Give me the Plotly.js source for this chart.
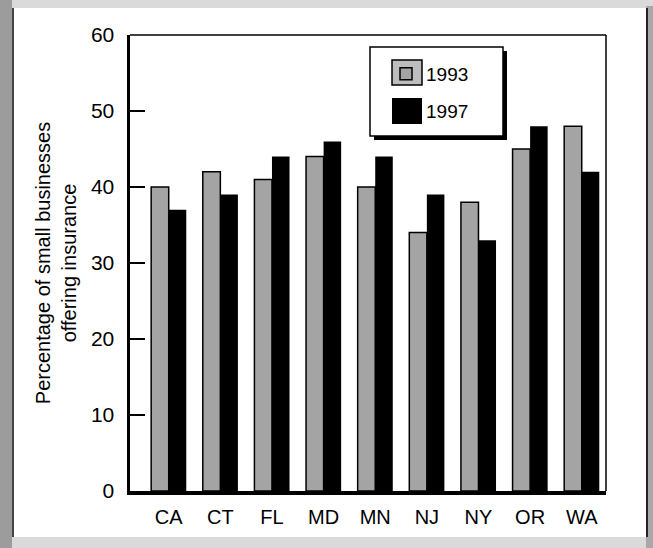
<!DOCTYPE html>
<html>
<head>
<meta charset="utf-8">
<script src="https://cdn.plot.ly/plotly-3.0.1.min.js"></script>
<style>
  html, body { margin: 0; padding: 0; }
  body { width: 653px; height: 548px; background: #dadada; position: relative; overflow: hidden; }
  #lstrip { position: absolute; left: 0; top: 0; width: 12px; height: 548px; background: #9c9c9c; }
  #rstrip { position: absolute; left: 646px; top: 6px; width: 7px; height: 542px; background: #a8a8a8; }
  #frame { position: absolute; left: 12px; top: 8px; width: 632px; height: 529px; background: #ffffff; border-right: 2px solid #222; border-left: 2px solid #444; }
  #chart { position: absolute; left: 0; top: 0; width: 653px; height: 548px; }
</style>
</head>
<body>
<div id="lstrip"></div>
<div id="rstrip"></div>
<div id="frame"></div>
<div id="chart"></div>
<script>
const states = ['CA', 'CT', 'FL', 'MD', 'MN', 'NJ', 'NY', 'OR', 'WA'];
const values1993 = [40, 42, 41, 44, 40, 34, 38, 45, 48];
const values1997 = [37, 39, 44, 46, 44, 39, 33, 48, 42];
const seriesNames = ['1993', '1997'];
const yTicks = [0, 10, 20, 30, 40, 50, 60];

const FONT = 'Liberation Sans, Arial, Helvetica, sans-serif';

const traces = [
  {
    type: 'bar', name: seriesNames[0], x: states, y: values1993,
    legendgroup: 'a',
    marker: {
      color: '#b8b8b8',
      line: { color: '#000', width: 1.5 },
      pattern: { shape: '.', fgcolor: '#7a7a7a', bgcolor: '#c6c6c6', size: 2, solidity: 0.5 }
    },
    hoverinfo: 'x+y'
  },
  {
    type: 'bar', name: seriesNames[1], x: states, y: values1997,
    legendgroup: 'b',
    marker: { color: '#000', line: { color: '#000', width: 0 } },
    hoverinfo: 'x+y'
  }
];

// paper helpers (plot area: left 130, right 606, top 35, bottom 491)
const PL = 130, PR = 606, PT = 35, PB = 491;
const px = v => (v - PL) / (PR - PL);
const py = v => (PB - v) / (PB - PT);

const shapes = [
  { type: 'line', xref: 'paper', yref: 'paper', x0: 0, x1: 1, y0: 1, y1: 1, line: { color: '#000', width: 1.5 } },
  { type: 'line', xref: 'paper', yref: 'paper', x0: 1, x1: 1, y0: 0, y1: 1, line: { color: '#000', width: 1.5 } },
  { type: 'rect', xref: 'paper', yref: 'paper', x0: px(374), x1: px(507), y0: py(140), y1: py(51), fillcolor: '#000', line: { width: 0 }, layer: 'above' },
  { type: 'rect', xref: 'paper', yref: 'paper', x0: px(370), x1: px(503), y0: py(136), y1: py(47), fillcolor: '#fff', line: { color: '#000', width: 1.5 }, layer: 'above' },
  { type: 'rect', xref: 'paper', yref: 'paper', x0: px(392), x1: px(422), y0: py(85), y1: py(60), fillcolor: '#bdbdbd', line: { color: '#000', width: 1.5 }, layer: 'above' },
  { type: 'rect', xref: 'paper', yref: 'paper', x0: px(392), x1: px(422), y0: py(124), y1: py(98), fillcolor: '#000', line: { width: 0 }, layer: 'above' }
];

const layout = {
  width: 653, height: 548,
  margin: { l: PL, r: 653 - PR, t: PT, b: 548 - PB },
  paper_bgcolor: 'rgba(0,0,0,0)',
  plot_bgcolor: 'rgba(0,0,0,0)',
  font: { family: FONT, color: '#000', size: 18 },
  barmode: 'group',
  bargap: 0.32,
  bargroupgap: 0,
  showlegend: true,
  legend: {
    x: px(386), y: py(55), xanchor: 'left', yanchor: 'top',
    bgcolor: 'rgba(0,0,0,0)', borderwidth: 0,
    font: { family: FONT, size: 19, color: '#000' },
    traceorder: 'grouped', tracegroupgap: 9
  },
  xaxis: {
    type: 'category',
    range: [-0.75, 8.47],
    showline: true, linecolor: '#000', linewidth: 3.5,
    ticks: '', showgrid: false, zeroline: false,
    tickfont: { family: FONT, size: 20, color: '#000' },
    ticklabelstandoff: 5,
    fixedrange: true
  },
  yaxis: {
    range: [0, 60],
    tickvals: yTicks,
    ticktext: yTicks.map(String),
    showline: true, linecolor: '#000', linewidth: 3.5,
    ticks: 'inside', ticklen: 15, tickwidth: 2, tickcolor: '#000',
    showgrid: false, zeroline: false,
    tickfont: { family: FONT, size: 21, color: '#000' },
    ticklabelstandoff: 8,
    title: { text: 'Percentage of small businesses<br>offering insurance', font: { family: FONT, size: 20, color: '#000' }, standoff: 10 },
    fixedrange: true
  },
  shapes: shapes
};

Plotly.newPlot('chart', traces, layout, { displayModeBar: false, staticPlot: true });
</script>
</body>
</html>
